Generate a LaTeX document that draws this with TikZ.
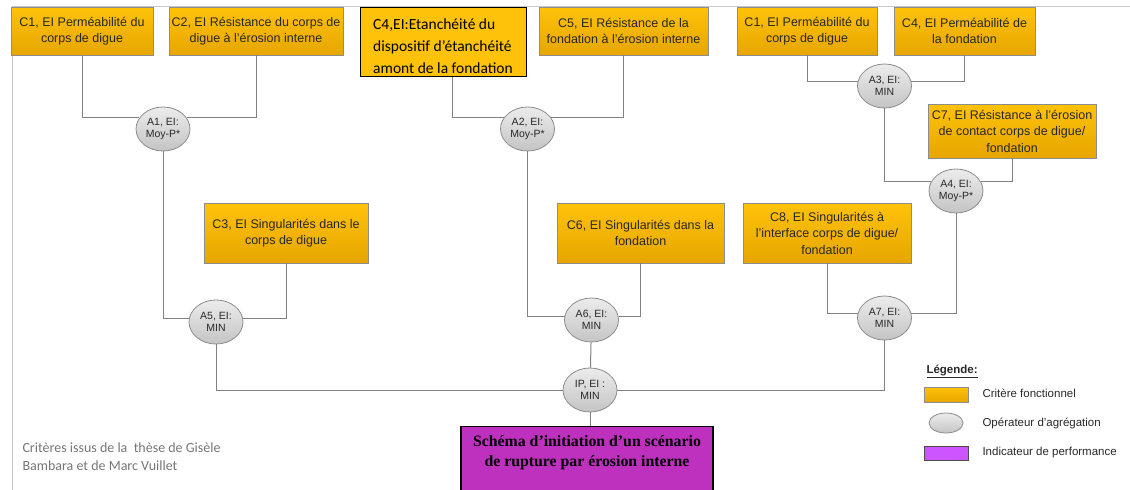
\documentclass[tikz,border=0pt]{standalone}
\usepackage{fontspec}
\setmainfont{Liberation Sans}
\newfontfamily\calibri{Carlito}
\newfontfamily\timesfont{Liberation Serif}
\usetikzlibrary{shapes.geometric}
\definecolor{critA}{RGB}{255,194,10}
\definecolor{critB}{RGB}{230,166,0}
\definecolor{critline}{RGB}{140,140,140}
\definecolor{opA}{RGB}{236,236,236}
\definecolor{opB}{RGB}{196,196,196}
\definecolor{wiregray}{RGB}{128,128,128}
\definecolor{framegray}{RGB}{200,200,200}
\definecolor{indfill}{RGB}{190,48,190}
\definecolor{legpurple}{RGB}{204,85,255}
\definecolor{txt}{RGB}{40,40,40}
\definecolor{notegray}{RGB}{118,118,118}
\tikzset{
  crit/.style={draw=critline, line width=0.8pt, top color=critA, bottom color=critB,
    text=txt, align=center, inner sep=0pt, font=\fontsize{12.5}{16.5}\selectfont},
  critk/.style={draw=black, line width=1pt, fill=critA, text=black, align=left,
    inner sep=0pt, font=\calibri\fontsize{15.5}{22}\selectfont},
  op/.style={ellipse, draw=critline, line width=0.8pt, top color=opA, bottom color=opB,
    text=txt, align=center, inner sep=0pt, minimum width=54, minimum height=44,
    font=\fontsize{10.5}{12.5}\selectfont},
  perf/.style={draw=black, line width=1.3pt, fill=indfill},
  perftext/.style={align=center, text=black, font=\timesfont\bfseries\fontsize{15.8}{20}\selectfont},
  wire/.style={draw=wiregray, line width=1pt},
  legtext/.style={anchor=west, text=txt, font=\fontsize{11.5}{14}\selectfont}
}
\begin{document}
\begin{tikzpicture}[x=1pt,y=-1pt]
  \useasboundingbox (0,0) rectangle (1130,490);
  \draw[framegray, line width=0.8pt] (12,490) -- (12,6) -- (1130,6);

  \node[crit, minimum width=142, minimum height=48] (C1) at (82,31) {C1, EI Perméabilité du\\corps de digue};
  \node[crit, minimum width=174, minimum height=48] (C2) at (256,31) {C2, EI Résistance du corps de\\digue à l’érosion interne};
  \node[critk, minimum width=166, minimum height=69] (C4) at (443,41.5) {\rule{0pt}{20pt}C4,EI:Etanchéité du\\dispositif d’étanchéité\\amont de la fondation};
  \node[crit, minimum width=169, minimum height=48] (C5) at (623.5,31) {C5, EI Résistance de la\\fondation à l’érosion interne};
  \node[crit, minimum width=140, minimum height=48] (C1b) at (807,31) {C1, EI Perméabilité du\\corps de digue};
  \node[crit, minimum width=141, minimum height=48] (C4b) at (964.5,31) {C4, EI Perméabilité de\\la fondation};
  \node[crit, minimum width=168, minimum height=54] (C7) at (1012,131) {C7, EI Résistance à l’érosion\\de contact corps de digue/\\fondation};
  \node[crit, minimum width=164, minimum height=60] (C3) at (286,233) {C3, EI Singularités dans le\\corps de digue};
  \node[crit, minimum width=167, minimum height=60] (C6) at (640.5,233) {C6, EI Singularités dans la\\fondation};
  \node[crit, minimum width=168, minimum height=60] (C8) at (827,233) {C8, EI Singularités à\\l’interface corps de digue/\\fondation};

  \node[op] (A1) at (163,129) {A1, EI:\\Moy-P*};
  \node[op] (A2) at (527.5,129) {A2, EI:\\Moy-P*};
  \node[op] (A3) at (884.5,86) {A3, EI:\\MIN};
  \node[op] (A4) at (956,191) {A4, EI:\\Moy-P*};
  \node[op] (A5) at (216,322) {A5, EI:\\MIN};
  \node[op] (A6) at (591.5,320) {A6, EI:\\MIN};
  \node[op] (A7) at (884.5,318) {A7, EI:\\MIN};
  \node[op] (IP) at (590,390) {IP, EI :\\MIN};

  \node[perf, anchor=north, minimum width=252, minimum height=80,
    label={[perftext, anchor=north, yshift=-6]north:{Schéma d’initiation d’un scénario\\de rupture par érosion interne}}] (PI) at (587,426) {};

  \foreach \s/\t in {C1/A1.155, C2/A1.25, C5/A2.25, C1b/A3.170, C4b/A3.10, C7/A4.20,
      C3/A5.8, C6/A6.8, C8/A7.170, A1/A5.172, A2/A6.172, A3/A4.160, A4/A7.10, A5/IP, A7/IP}
    \draw[wire] (\s) |- (\t);
  \draw[wire] ([xshift=9]C4.south) |- (A2.155);
  \draw[wire] (A6) -- (IP);
  \draw[wire] (IP.south) -- (IP.south |- PI.north);

  \node[anchor=north west, align=left, text=notegray, font=\calibri\fontsize{14}{18}\selectfont] (src) at (19,439) {Critères issus de la\ \ thèse de Gisèle\\Bambara et de Marc Vuillet};

  \node[legtext, font=\bfseries\fontsize{11.5}{14}\selectfont] (leg) at (923,371) {\underline{Légende:}};
  \node[crit, minimum width=44, minimum height=15] (L1) at (946,394.5) {};
  \node[legtext] (L1t) at (979,393) {Critère fonctionnel};
  \node[op, minimum width=34, minimum height=20] (L2) at (946,423) {};
  \node[legtext] (L2t) at (979,423) {Opérateur d’agrégation};
  \node[draw=black!70, line width=0.8pt, fill=legpurple, minimum width=44, minimum height=14, inner sep=0pt] (L3) at (946,453) {};
  \node[legtext] (L3t) at (979,453) {Indicateur de performance};
\end{tikzpicture}
\end{document}
